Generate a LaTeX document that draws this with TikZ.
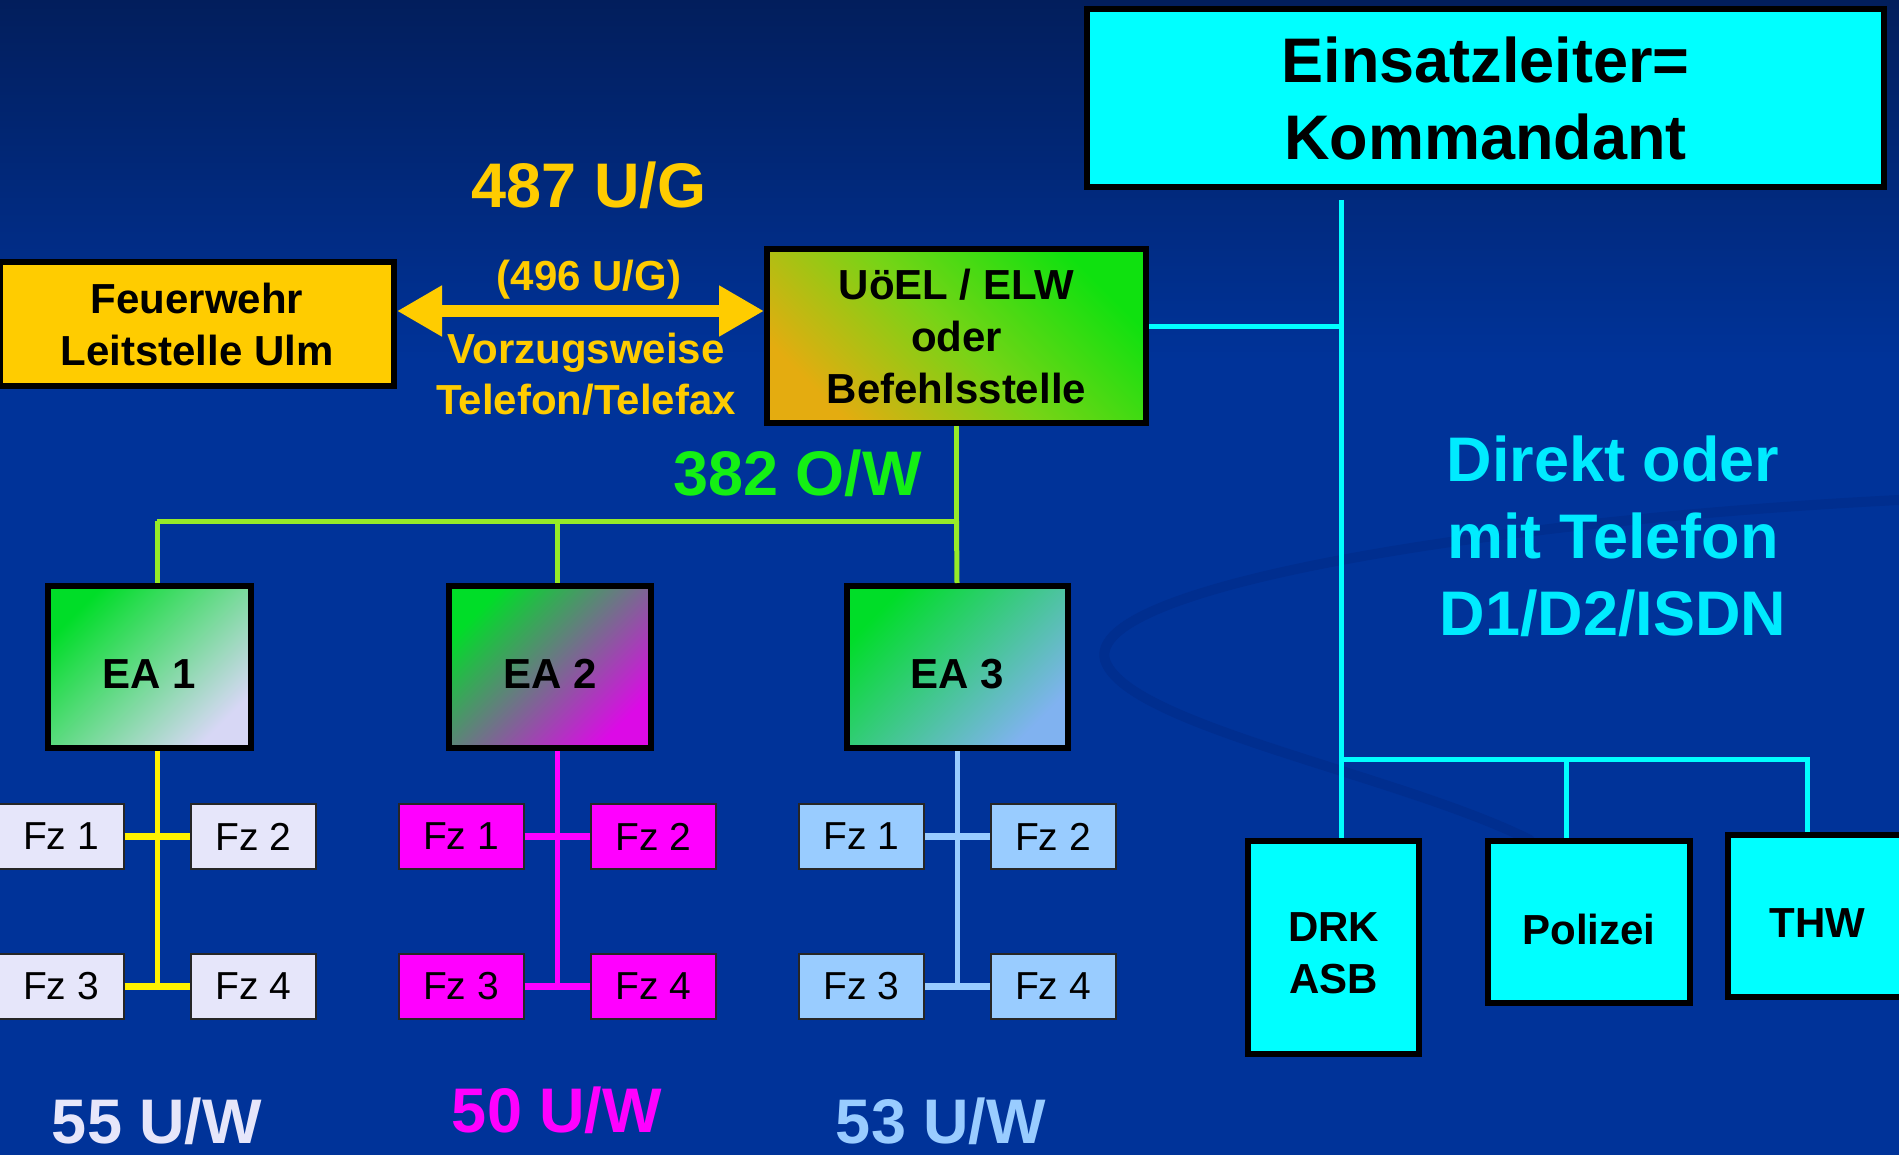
\documentclass[tikz,border=0pt]{standalone}
\usepackage{fontspec}
\setmainfont{Liberation Sans}
\usetikzlibrary{arrows.meta}
\definecolor{bgtop}{RGB}{2,30,92}
\definecolor{bgmain}{RGB}{0,51,153}
\definecolor{bgswirl}{RGB}{0,46,143}
\definecolor{gold}{RGB}{255,204,0}
\definecolor{cyn}{RGB}{0,255,255}
\definecolor{cytext}{RGB}{0,235,255}
\definecolor{txtgreen}{RGB}{20,240,20}
\definecolor{lgreen}{RGB}{150,235,40}
\definecolor{lav}{RGB}{230,230,250}
\definecolor{mag}{RGB}{255,0,255}
\definecolor{lblue}{RGB}{153,204,255}
\definecolor{eagreen}{RGB}{0,221,40}
\definecolor{ealav}{RGB}{215,215,245}
\definecolor{eamag}{RGB}{220,10,230}
\definecolor{eablue}{RGB}{128,178,240}
\definecolor{uogreen}{RGB}{15,225,15}
\definecolor{uoorange}{RGB}{228,172,16}
\definecolor{uomid}{RGB}{118,212,22}
\newcommand{\lowtxt}[2]{\raisebox{-#1}[\height][\depth]{#2}}
\tikzset{
  box/.style={draw=black, line width=6pt, inner sep=0pt, align=center, text=black,
    font=\bfseries\fontsize{42}{52}\selectfont},
  bigbox/.style={box, font=\bfseries\fontsize{63}{77}\selectfont},
  eabox/.style={box, top color=eagreen, bottom color=#1, shading angle=45,
    minimum height=162pt},
  fz/.style={draw=black!85, line width=2pt, inner sep=0pt, minimum width=125pt,
    minimum height=65pt, text=black, font=\fontsize{39}{47}\selectfont},
  biglbl/.style={font=\bfseries\fontsize{63}{77}\selectfont, anchor=base, inner sep=0pt},
  midlbl/.style={font=\bfseries\fontsize{42}{51}\selectfont, inner sep=0pt, align=center},
  cyl/.style={draw=cyn, line width=5pt},
  grl/.style={draw=lgreen, line width=5pt},
  vln/.style={line width=5pt},
  stub/.style={line width=7pt},
  dbl/.style={draw=gold, line width=12.5pt,
    arrows={Triangle[length=45pt,width=48pt]-Triangle[length=45pt,width=48pt]}}
}
\begin{document}
\begin{tikzpicture}[x=1pt,y=-1pt]
\path[use as bounding box, clip] (0,0) rectangle (1899,1155);
% background
\fill[bgmain] (0,0) rectangle (1899,1155);
\shade[top color=bgtop, bottom color=bgmain] (0,0) rectangle (1899,360);
\draw[bgswirl, line width=10pt, line cap=round]
  (1899,500) .. controls (1500,520) and (1085,585) .. (1105,660)
  .. controls (1125,725) and (1400,775) .. (1530,840);

% main boxes
\node[bigbox, fill=cyn, minimum width=797pt, minimum height=178pt] (el) at (1485.5,98)
  {Einsatzleiter=\\Kommandant};
\node[box, fill=gold, minimum width=394pt, minimum height=124pt] (fe) at (197,324)
  {Feuerwehr\\Leitstelle Ulm};
\node[box, top color=uogreen, bottom color=uoorange, middle color=uomid, shading angle=-45,
  minimum width=379pt, minimum height=174pt] (uo) at (956.5,336)
  {UöEL / ELW\\oder\\Befehlsstelle};

\node[eabox=ealav, minimum width=203pt] (ea1) at (149.5,667) {\lowtxt{7pt}{EA 1}};
\node[eabox=eamag, minimum width=202pt] (ea2) at (550,667) {\lowtxt{7pt}{EA 2}};
\node[eabox=eablue, minimum width=221pt] (ea3) at (957.5,667) {\lowtxt{7pt}{EA 3}};

% Fz boxes
\node[fz, fill=lav] (f11) at (61,836.5) {Fz 1};
\node[fz, fill=lav] (f12) at (253.5,836.5) {Fz 2};
\node[fz, fill=lav] (f13) at (61,986) {Fz 3};
\node[fz, fill=lav] (f14) at (253.5,986) {Fz 4};
\node[fz, fill=mag] (f21) at (461,836.5) {Fz 1};
\node[fz, fill=mag] (f22) at (653.5,836.5) {Fz 2};
\node[fz, fill=mag] (f23) at (461,986) {Fz 3};
\node[fz, fill=mag] (f24) at (653.5,986) {Fz 4};
\node[fz, fill=lblue] (f31) at (861.5,836.5) {Fz 1};
\node[fz, fill=lblue] (f32) at (1053,836.5) {Fz 2};
\node[fz, fill=lblue] (f33) at (861.5,986) {Fz 3};
\node[fz, fill=lblue] (f34) at (1053,986) {Fz 4};

% right boxes
\node[box, fill=cyn, minimum width=171pt, minimum height=213pt] (drk) at (1333.5,947.5)
  {\lowtxt{10pt}{\begin{tabular}{@{}c@{}}DRK\\ASB\end{tabular}}};
\node[box, fill=cyn, minimum width=202pt, minimum height=162pt] (pol) at (1589,922) {\lowtxt{7pt}{Polizei}};
\node[box, fill=cyn, minimum width=179pt, minimum height=162pt] (thw) at (1817.5,916) {\lowtxt{7pt}{THW}};

% labels
\node[biglbl, text=gold] (l487) at (589,208) {487 U/G};
\node[midlbl, anchor=base, text=gold] (l496) at (589,291) {(496 U/G)};
\node[midlbl, text=gold] (lvor) at (586,374) {Vorzugsweise\\Telefon/Telefax};
\node[biglbl, text=txtgreen] (l382) at (797.5,495) {382 O/W};
\node[biglbl, text=lav] (l55) at (157,1143) {55 U/W};
\node[biglbl, text=mag] (l50) at (557,1132) {50 U/W};
\node[biglbl, text=lblue] (l53) at (941,1143) {53 U/W};
\node[midlbl, font=\bfseries\fontsize{63}{77}\selectfont, text=cytext] (ldir) at (1613,536)
  {Direkt oder\\mit Telefon\\D1/D2/ISDN};

% coordinates
\coordinate (ay) at (0,311);
\coordinate (ttop) at (1341,200);
\coordinate (cy) at (1341,327);
\coordinate (cb) at (1341,759);
\coordinate (cp) at (1566,759);
\coordinate (cr) at (1807,759);
\coordinate (gy) at (0,521);
\coordinate (d1) at (157,521);
\coordinate (d2) at (557,521);
\coordinate (d3) at (957,521);

% double arrow
\draw[dbl] (fe.east |- ay) -- (uo.west |- ay);

% cyan connectors
\draw[cyl] (uo.east |- cy) -- (cy);
\draw[cyl] (ttop) -- (drk.north -| ttop);
\draw[cyl] (cb) -- (cr) -- (thw.north -| cr);
\draw[cyl] (cp) -- (pol.north -| cp);

% green connectors
\draw[grl] (uo.south) -- (uo.south |- gy) -- (d1);
\draw[grl] (d1) -- (ea1.north -| d1);
\draw[grl] (d2) -- (ea2.north -| d2);
\draw[grl] (uo.south |- gy) -- (ea3.north -| d3);

% group 1
\draw[vln, draw=yellow] (ea1.south -| d1) -- (d1 |- f13.east);
\draw[stub, draw=yellow] (f11.east) -- (f12.west);
\draw[stub, draw=yellow] (f13.east) -- (f14.west);
% group 2
\draw[vln, draw=mag] (ea2.south -| d2) -- (d2 |- f23.east);
\draw[stub, draw=mag] (f21.east) -- (f22.west);
\draw[stub, draw=mag] (f23.east) -- (f24.west);
% group 3
\draw[vln, draw=lblue] (ea3.south -| d3) -- (d3 |- f33.east);
\draw[stub, draw=lblue] (f31.east) -- (f32.west);
\draw[stub, draw=lblue] (f33.east) -- (f34.west);
\end{tikzpicture}
\end{document}
